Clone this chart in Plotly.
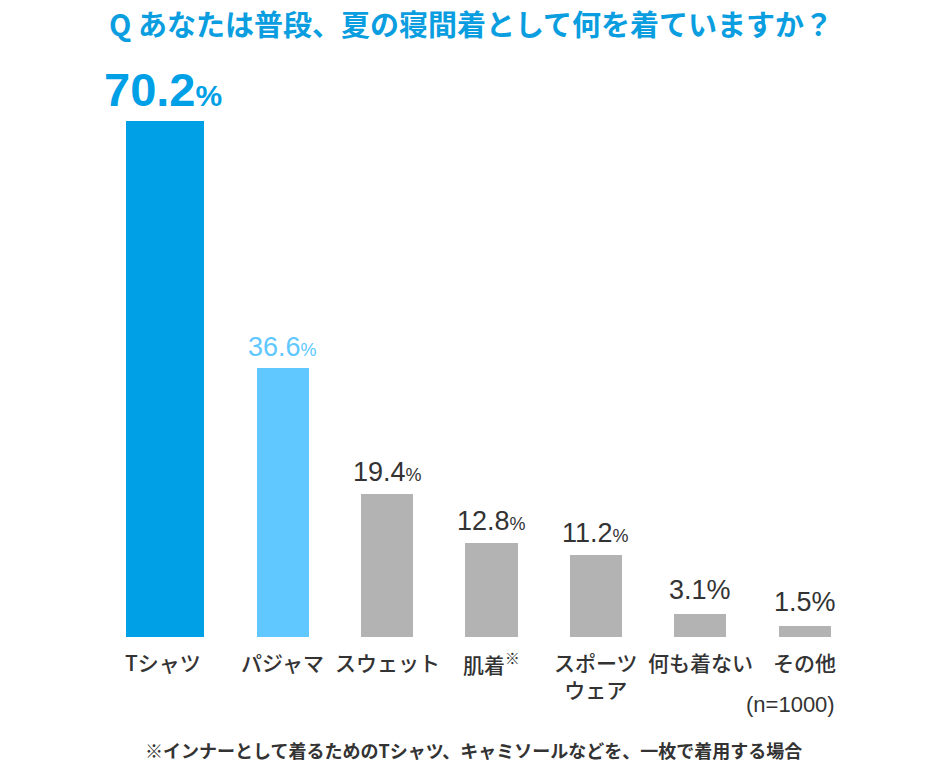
import plotly.graph_objects as go

categories = ["Tシャツ", "パジャマ", "スウェット", "肌着", "スポーツウェア", "何も着ない", "その他"]
tick_labels = ["Tシャツ", "パジャマ", "スウェット", "肌着<sup>※</sup>", "スポーツ<br>ウェア", "何も着ない", "その他"]
values = [70.2, 36.6, 19.4, 12.8, 11.2, 3.1, 1.5]

title_text = "Q あなたは普段、夏の寝間着として何を着ていますか？"
sample_text = "(n=1000)"
footnote_text = "※インナーとして着るためのTシャツ、キャミソールなどを、一枚で着用する場合"

# ---- styles ----
bar_colors = ["#00a0e6", "#60c8ff", "#b3b3b3", "#b3b3b3", "#b3b3b3", "#b3b3b3", "#b3b3b3"]
bar_widths = [0.785, 0.5, 0.5, 0.5, 0.5, 0.5, 0.5]
first_shift = -0.15
bar_offsets = [-w / 2 for w in bar_widths]
bar_offsets[0] += first_shift

NUM_FONT = "Liberation Sans, Arial, Noto Sans CJK JP"
JP_FONT = "Noto Sans CJK JP, Noto Sans, sans-serif"
DARK = "#333333"

# page has 8px body margin; figure sized to fit the 945x768 window exactly
OFF = 8
W, H = 945 - 2 * OFF, 768 - 2 * OFF
plot_left, plot_right, plot_top, plot_bottom = 126.3, 857.0, 60, 637  # page pixels
ml = plot_left - OFF
mr = W - (plot_right - OFF)
mt = plot_top - OFF
mb = H - (plot_bottom - OFF)
pw, ph = W - ml - mr, H - mt - mb
px_per_cat = pw / 7.0


def paper(x, y):
    """page pixel -> paper coords"""
    return (x - OFF - ml) / pw, (H - mb - (y - OFF)) / ph


fig = go.Figure()
fig.add_trace(go.Bar(
    x=categories, y=values,
    width=bar_widths, offset=bar_offsets,
    marker=dict(color=bar_colors, line=dict(width=0)),
    hoverinfo="skip",
))

anns = []
for i, (c, v) in enumerate(zip(categories, values)):
    xs = first_shift * px_per_cat if i == 0 else 0
    if i == 0:
        txt = f"<b>{v:.1f}<span style='font-size:30px'>%</span></b>"
        font = dict(family=NUM_FONT, size=47, color="#00a0e6")
        ys = 3
    elif i == 1:
        txt = f"{v:.1f}<span style='font-size:18px'>%</span>"
        font = dict(family=NUM_FONT, size=27, color="#60c8ff")
        ys = 4
    elif i < 5:
        txt = f"{v:.1f}<span style='font-size:18px'>%</span>"
        font = dict(family=NUM_FONT, size=27, color=DARK)
        ys = 5
    else:
        txt = f"{v:.1f}%"
        font = dict(family=NUM_FONT, size=27, color=DARK)
        ys = 7
    anns.append(dict(x=c, y=v, xref="x", yref="y", text=txt, showarrow=False,
                     yanchor="bottom", xanchor="center", xshift=xs, yshift=ys, font=font))
    anns.append(dict(x=c, y=0, xref="x", yref="y", text=tick_labels[i], showarrow=False,
                     yanchor="top", xanchor="center", xshift=xs, yshift=-8,
                     font=dict(family=JP_FONT, size=21, color=DARK, weight=500)))

sx, sy = paper(837, 704)
anns.append(dict(x=sx, y=sy, xref="paper", yref="paper", text=sample_text, showarrow=False,
                 xanchor="right", yanchor="middle",
                 font=dict(family=NUM_FONT, size=22, color=DARK)))
tx, ty = paper(471, 23)
anns.append(dict(x=tx, y=ty, xref="paper", yref="paper", text=f"<b>{title_text}</b>", showarrow=False,
                 xanchor="center", yanchor="middle",
                 font=dict(family=JP_FONT, size=29, color="#0a9ee0")))
fx, fy = paper(474, 750)
anns.append(dict(x=fx, y=fy, xref="paper", yref="paper", text=f"<b>{footnote_text}</b>", showarrow=False,
                 xanchor="center", yanchor="middle",
                 font=dict(family=JP_FONT, size=18, color=DARK)))

fig.update_layout(
    annotations=anns,
    width=W, height=H,
    margin=dict(l=ml, r=mr, t=mt, b=mb, pad=0),
    paper_bgcolor="white", plot_bgcolor="white",
    showlegend=False,
    xaxis=dict(type="category", range=[-0.5, 6.5], showticklabels=False, showgrid=False,
               zeroline=False, showline=False, ticks=""),
    yaxis=dict(range=[0, 78.5], showticklabels=False, showgrid=False, zeroline=False,
               showline=False, ticks=""),
    bargap=0,
)

fig.write_html("out.html", config={"displayModeBar": False})
